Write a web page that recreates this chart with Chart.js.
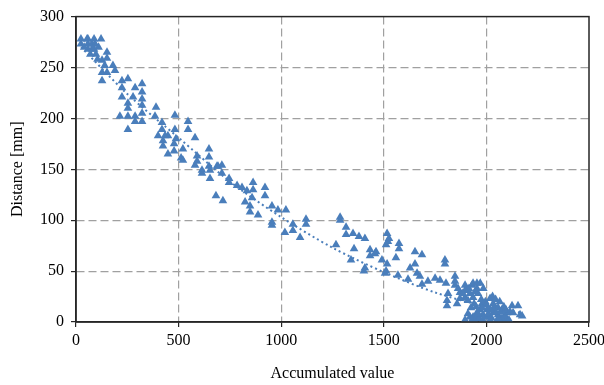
<!DOCTYPE html>
<html>
<head>
<meta charset="utf-8">
<script src="https://cdn.jsdelivr.net/npm/chart.js@4"></script>
<style>
  html, body { margin: 0; padding: 0; background: #fff; }
</style>
</head>
<body>
<canvas id="chart" width="604" height="385"></canvas>
<script>
  // accumulated value (x) and distance in mm (y)
  const accValues = [
    24, 54, 58, 88, 122, 24, 58, 78, 93, 58, 78, 88, 97, 151, 151, 127, 180, 151, 127, 190,
    127, 224, 253, 224, 288, 322, 224, 278, 322, 322, 253, 322, 253, 390, 214, 253, 288, 322, 288, 322,
    253, 385, 482, 419, 546, 546, 419, 400, 448, 580, 424, 487, 482, 434, 424, 478, 478, 521, 448, 512,
    590, 590, 648, 648, 580, 648, 692, 711, 614, 521, 614, 653, 687, 653, 711, 746, 746, 785, 809, 863,
    863, 921, 833, 921, 858, 682, 716, 824, 848, 848, 887, 955, 984, 1023, 955, 955, 1018, 1057, 1057, 1121,
    1121, 1092, 1287, 1287, 1316, 1316, 1350, 1379, 1408, 1267, 1355, 1340, 1433, 1433, 1462, 1491, 1408, 1403, 1511, 1516,
    1520, 1516, 1525, 1511, 1574, 1574, 1457, 1559, 1652, 1686, 1652, 1628, 1506, 1569, 1618, 1662, 1676, 1686, 1715, 1750,
    1774, 1803, 1798, 1798, 1847, 1847, 1847, 1813, 1871, 1905, 1896, 1808, 1808, 1862, 1896, 1896, 1930, 1935, 1954, 1954,
    1920, 1871, 1857, 1910, 1935, 1959, 1979, 2018, 2033, 2057, 2076, 2100, 2125, 2154, 2130, 2164, 2174, 1896, 1930, 1954,
    1983, 2018, 2052, 2081, 1969, 2003, 2033, 1983, 1954, 2057, 2076, 1935, 2008, 1979, 2100, 1910, 2040, 1995, 2065,
    1900, 1920, 1945, 1965, 1990, 2010, 2025, 2045, 2060, 2090, 2110, 2115, 1950, 1975, 2000, 2030, 2045, 2085, 2070, 1925,
    1960, 2095, 1940, 2020, 1885, 1915, 1945, 1985, 1970, 40, 70, 110, 105, 140
  ];
  const distances = [
    278, 278, 278, 278, 278, 273, 273, 273, 273, 268, 268, 268, 263, 265, 259, 257, 252, 245, 245, 247,
    237, 237, 239, 230, 230, 234, 221, 221, 226, 219, 215, 213, 210, 211, 202, 202, 202, 205, 197, 197,
    189, 202, 203, 196, 197, 189, 189, 183, 183, 181, 178, 180, 189, 183, 173, 175, 168, 170, 165, 161,
    163, 158, 170, 162, 154, 153, 153, 154, 149, 159, 146, 149, 153, 141, 146, 141, 137, 134, 132, 137,
    130, 132, 129, 124, 122, 124, 119, 118, 114, 108, 105, 114, 110, 110, 98, 95, 88, 96, 90, 101,
    96, 83, 103, 100, 93, 86, 87, 84, 82, 76, 72, 61, 71, 65, 69, 61, 53, 50, 50, 57,
    79, 87, 82, 76, 77, 72, 67, 63, 69, 66, 57, 53, 48, 46, 42, 48, 45, 37, 40, 43,
    41, 38, 61, 57, 45, 40, 36, 28, 29, 31, 24, 21, 16, 33, 36, 31, 36, 38, 38, 33,
    28, 23, 18, 21, 24, 28, 18, 23, 18, 14, 12, 9, 16, 16, 9, 7, 6, 2, 2, 4,
    2, 2, 2, 2, 12, 12, 9, 7, 9, 7, 4, 5, 5, 14, 3, 8, 15, 20, 20,
    0, 5, 0, 3, 5, 8, 4, 10, 2, 6, 2, 10, 15, 22, 17, 25, 22, 15, 10, 14,
    8, 12, 18, 12, 28, 33, 30, 33, 38, 270, 263, 270, 258, 252
  ];

  // dotted trend line
  const trendX = [25, 250, 500, 750, 1000, 1250, 1500, 1750, 2000, 2175];
  const trendY = [270, 224, 181, 138, 103, 73, 49, 29, 15, 9];

  const blue = '#4a7ebb';
  const serif = "'Liberation Serif', 'Times New Roman', serif";

  const points = accValues.map((x, i) => ({ x, y: distances[i] }));
  const trend = trendX.map((x, i) => ({ x, y: trendY[i] }));

  // frame round the plot area (top and right sides too)
  const frame = {
    id: 'frame',
    afterDraw(chart) {
      const { ctx, chartArea: a } = chart;
      ctx.save();
      ctx.strokeStyle = '#262626';
      ctx.lineWidth = 1.5;
      ctx.strokeRect(a.left, a.top, a.right - a.left, a.bottom - a.top);
      ctx.restore();
    }
  };

  const gridColor = (c) =>
    (c.index === 0 || c.index === c.scale.ticks.length - 1) ? 'rgba(0,0,0,0)' : '#a0a0a0';

  new Chart(document.getElementById('chart'), {
    type: 'scatter',
    data: {
      datasets: [
        {
          type: 'line',
          data: trend,
          borderColor: blue,
          borderWidth: 2,
          borderDash: [2, 3],
          pointRadius: 0,
          tension: 0.3,
          fill: false
        },
        {
          data: points,
          pointStyle: 'triangle',
          pointRadius: 5,
          backgroundColor: blue,
          borderColor: blue,
          borderWidth: 0
        }
      ]
    },
    options: {
      responsive: false,
      animation: false,
      devicePixelRatio: 1,
      layout: { padding: { left: 8, right: 15, top: 10, bottom: 0 } },
      plugins: { legend: { display: false }, tooltip: { enabled: false } },
      scales: {
        x: {
          type: 'linear',
          min: 0, max: 2500,
          ticks: {
            stepSize: 500, maxRotation: 0, color: '#000', padding: 4,
            font: { family: serif, size: 16 },
            callback: (v) => String(v)
          },
          grid: { color: gridColor, lineWidth: 1.2, tickLength: 5, tickColor: '#262626', tickWidth: 1.2, tickBorderDash: [] },
          border: { display: true, color: '#262626', width: 1.5, dash: [8, 4] },
          title: { display: true, text: 'Accumulated value', color: '#000', font: { family: serif, size: 16 }, padding: { top: 4, bottom: 2 } },
          afterFit(scale) { scale.height = 63; scale.paddingLeft = 0; scale.paddingRight = 0; }
        },
        y: {
          min: 0, max: 300,
          ticks: {
            stepSize: 50, color: '#000', padding: 7,
            font: { family: serif, size: 16 },
            callback: (v) => String(v)
          },
          grid: { color: gridColor, lineWidth: 1.2, tickLength: 5, tickColor: '#262626', tickWidth: 1.2, tickBorderDash: [] },
          border: { display: true, color: '#262626', width: 1.5, dash: [8, 4] },
          title: { display: true, text: 'Distance [mm]', color: '#000', font: { family: serif, size: 16 }, padding: { top: 0, bottom: 4 } },
          afterFit(scale) { scale.width = 68; }
        }
      }
    },
    plugins: [frame]
  });
</script>
</body>
</html>
